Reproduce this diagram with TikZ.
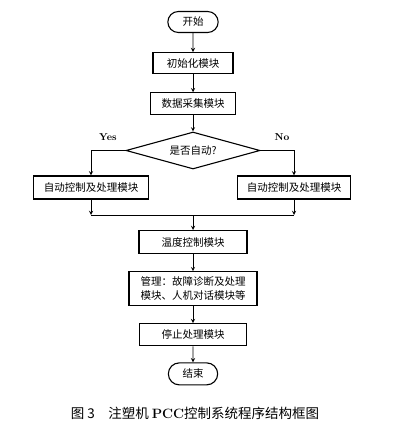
\documentclass[tikz,border=0pt]{standalone}
\usepackage{fontspec}
\usepackage{tikz}
\usetikzlibrary{shapes,arrows,positioning}
\newfontfamily\cjk{Noto Sans CJK SC}

\begin{document}
\begin{tikzpicture}[
    x=1pt, y=-1pt,
    node distance=18pt,
    every node/.style={align=center, font=\cjk\fontsize{10.5}{14}\selectfont},
    terminal/.style={rounded rectangle, minimum width=57pt, minimum height=21pt, draw, line width=1.1pt},
    module/.style={rectangle, minimum height=21pt, inner sep=3pt, draw, line width=1.2pt},
    decision/.style={diamond, aspect=3.6, inner sep=0pt, minimum width=134pt, minimum height=37pt, draw, line width=1.1pt},
    answer/.style={font=\rmfamily\bfseries\fontsize{10}{12}\selectfont},
    arrow/.style={line width=0.9pt,->,>=stealth}
]
\useasboundingbox (0,0) rectangle (399,443);

% Main column
\node[terminal] (start) at (193,22) {开始};
\node[module, minimum width=80pt, below=19pt of start] (init) {初始化模块};
\node[module, minimum width=85pt, minimum height=22pt, below=18pt of init] (collect) {数据采集模块};
\node[decision, below=16pt of collect] (auto) {是否自动?};

% Branches
\node[module, minimum width=115pt, minimum height=23pt] (autoL) at (91,187.5) {自动控制及处理模块};
\node[module, minimum width=113pt, minimum height=23pt] (autoR) at (294,187.5) {自动控制及处理模块};
\node[answer] (yes) at (108,137) {Yes};
\node[answer] (no) at (282,137) {No};
\coordinate (join) at (193,215);

\node[module, minimum width=108pt, minimum height=23pt, below=15pt of join] (temp) {温度控制模块};
\node[module, minimum width=128pt, inner sep=5pt, align=left, below=17pt of temp] (manage) {管理：故障诊断及处理\\模块、人机对话模块等};
\node[module, minimum width=107pt, minimum height=22pt, below=17pt of manage] (stop) {停止处理模块};
\node[terminal, minimum width=56pt, minimum height=22pt, below=16pt of stop] (finish) {结束};

% Caption
\node[font=\cjk\fontsize{13.5}{16}\selectfont] (caption) at (195,413) {图 3\quad 注塑机 {\rmfamily\bfseries PCC}控制系统程序结构框图};

% Connections
\draw[arrow] (start) -- (init);
\draw[arrow] (init) -- (collect);
\draw[arrow] (collect) -- (auto);
\draw[arrow] (auto.west) -| (autoL.north);
\draw[arrow] (auto.east) -| (autoR.north);
\draw[arrow] (autoL.south) -- (autoL.south |- join);
\draw[arrow] (autoR.south) -- (autoR.south |- join);
\draw[line width=0.9pt] (autoL.south |- join) -- (autoR.south |- join);
\draw[arrow] (join) -- (temp);
\draw[arrow] (temp) -- (manage);
\draw[arrow] (manage) -- (stop);
\draw[arrow] (stop) -- (finish);

\end{tikzpicture}
\end{document}
